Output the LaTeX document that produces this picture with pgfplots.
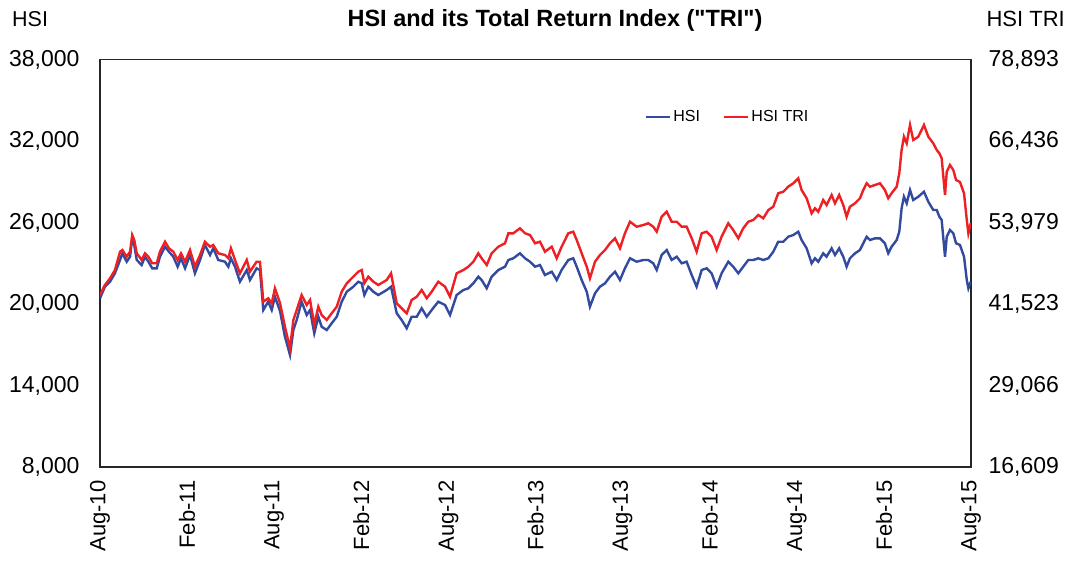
\documentclass[border=0pt]{standalone}
\usepackage{pgfplots}
\pgfplotsset{compat=1.18}
\usepackage{pgfplotstable}
\usepackage{fontspec}
\setmainfont{Liberation Sans}[Ligatures=TeXOff]
\definecolor{hsiblue}{RGB}{50,75,160}
\definecolor{trired}{RGB}{237,32,36}

\pgfplotstableread{
m hsi tri
0.00 20419 42897
0.34 21273 44426
0.69 21641 45450
1.03 22260 46718
1.38 23239 49516
1.54 23732 49775
1.84 23114 48751
2.07 23482 49516
2.22 24836 52068
2.36 24343 51304
2.53 23239 49271
2.87 22871 48247
3.10 23482 49271
3.33 23114 48751
3.60 22628 47743
3.91 22628 47743
4.13 23482 49516
4.48 24218 51044
4.75 23850 50035
5.05 23482 49516
5.35 22746 48247
5.58 23364 49271
5.86 22628 47987
6.20 23607 49775
6.54 22260 47223
6.89 23239 49011
7.23 24343 51044
7.58 23607 50280
7.80 24100 50540
8.15 23239 49271
8.61 23114 49011
8.84 22746 48507
9.02 23364 50035
9.30 22746 48247
9.64 21641 46214
10.11 22503 48247
10.33 21766 46459
10.79 22628 47987
11.02 22503 47987
11.25 19558 41873
11.59 20169 42393
11.83 19558 41629
12.05 20537 43921
12.40 19484 41674
12.74 17592 38052
13.09 16245 34750
13.32 18085 39076
13.55 18822 40604
13.89 20169 42897
14.24 19190 41369
14.47 19558 42133
14.76 17842 38312
15.04 19065 41109
15.27 18328 39840
15.62 18085 39076
15.96 18579 40100
16.31 19065 41109
16.65 20169 43402
17.00 20905 44685
17.45 21273 45694
17.79 21641 46459
18.03 21523 46718
18.21 20662 44685
18.48 21273 45694
18.83 20905 44930
19.17 20662 44426
19.75 21030 45190
20.05 21273 46214
20.44 19315 41629
20.78 18822 40864
21.13 18210 40100
21.47 19065 42133
21.82 19065 42637
22.16 19683 43661
22.51 19065 42393
22.85 19558 43402
23.30 20169 44930
23.77 19926 44166
24.11 19190 42637
24.57 20662 46214
25.03 21030 46718
25.37 21155 47223
25.72 21523 47987
26.06 22009 49271
26.29 21766 48507
26.64 21155 47483
26.98 22009 49271
27.44 22503 50280
27.90 22746 50800
28.13 23239 52328
28.47 23364 52328
28.93 23732 53092
29.28 23364 52328
29.62 23114 52068
29.97 22746 50800
30.31 22871 51044
30.65 22134 49516
31.12 22377 50280
31.46 21766 48507
31.80 22503 50280
32.26 23239 52328
32.60 23364 52573
32.84 22746 51304
33.18 21766 49271
33.53 20905 47223
33.75 19801 45450
34.10 20787 47987
34.44 21273 49011
34.79 21523 49775
35.13 22009 50800
35.48 22377 51564
35.82 21766 50035
36.16 22628 52328
36.51 23364 54101
36.97 23114 53337
37.43 23239 53597
37.77 23239 53857
38.11 22996 53337
38.35 22503 52573
38.69 23607 54865
39.04 23975 55630
39.38 23239 54101
39.73 23482 54101
40.07 22996 53337
40.41 23114 53337
40.76 22134 51564
41.10 21273 49516
41.45 22503 52328
41.79 22628 52573
42.13 22260 51808
42.48 21273 49775
42.82 22260 51808
43.28 23114 53857
43.62 22746 52832
43.97 22260 51564
44.31 22746 53092
44.66 23239 54101
45.00 23239 54361
45.35 23364 55125
45.69 23239 54621
46.04 23364 55889
46.38 23850 56394
46.72 24586 58442
47.07 24586 58687
47.41 24954 59451
47.76 25079 59971
48.10 25322 60735
48.33 24711 58946
48.68 24100 57678
49.02 22996 55385
49.25 23364 56149
49.48 23114 55630
49.82 23732 57418
50.05 23482 56654
50.40 24100 58182
50.63 23607 56914
50.92 24100 58182
51.20 23482 56654
51.43 22746 54865
51.66 23364 56394
52.01 23732 56914
52.35 23975 57678
52.58 24468 58946
52.81 24954 59971
53.04 24711 59451
53.39 24836 59711
53.73 24836 59971
54.07 24468 58946
54.30 23732 57678
54.53 24218 58442
54.88 24711 59451
55.06 25322 61499
55.22 27045 65060
55.38 27899 67093
55.57 27413 66085
55.80 28392 68882
56.02 27656 66589
56.37 27899 67093
56.76 28267 68882
57.06 27531 67093
57.40 26920 66085
57.64 26920 65060
57.82 26427 64556
57.98 26184 63792
58.21 23482 58182
58.33 24954 61744
58.55 25447 62768
58.78 25204 62003
58.97 24468 60475
59.24 24343 60170
59.52 23482 58442
59.71 21766 54361
59.82 21155 52328
59.98 21641 53857
}\data

\begin{document}
\begin{tikzpicture}
\pgfplotsset{
  base/.style={
    scale only axis, width=871pt, height=407.5pt,
    at={(0pt,0pt)}, anchor=south west,
    xmin=0, xmax=60,
    major tick length=0pt, minor tick length=0pt,
    scaled ticks=false,
    tick label style={font=\fontsize{23}{26}\selectfont},
    /pgf/number format/1000 sep={,},
    /pgf/number format/assume math mode=true,
  }
}
\begin{axis}[base,
  ymin=8000, ymax=38000,
  ytick={8000,14000,20000,26000,32000,38000},
  xtick={0,6,12,18,24,30,36,42,48,54,60},
  xticklabels={Aug-10,Feb-11,Aug-11,Feb-12,Aug-12,Feb-13,Aug-13,Feb-14,Aug-14,Feb-15,Aug-15},
  xticklabel style={rotate=90, anchor=east, xshift=-10pt, font=\fontsize{22}{26}\selectfont},
  yticklabel style={xshift=-17pt},
  axis line style={line width=1.4pt, black!85},
]
\addplot[hsiblue, line width=2.4pt] table[x=m, y=hsi]{\data};
\end{axis}
\begin{axis}[base,
  ymin=16609, ymax=78893,
  xtick=\empty,
  ytick={16609,29066,41523,53979,66436,78893},
  yticklabels={{16,609},{29,066},{41,523},{53,979},{66,436},{78,893}},
  yticklabel pos=right,
  yticklabel style={xshift=14pt},
  axis line style={draw=none},
  legend style={at={(axis description cs:0.6257,0.859)}, anchor=west,
    draw=none, fill=none, inner sep=0pt,
    font=\fontsize{16}{18}\selectfont,
    /tikz/every even column/.append style={column sep=21pt}},
  legend columns=2,
  legend image code/.code={\draw[#1] (0pt,0pt) -- (24pt,0pt);},
]
\addlegendimage{hsiblue, line width=2.2pt}
\addlegendentry{HSI}
\addplot[trired, line width=2.4pt] table[x=m, y=tri]{\data};
\addlegendentry{HSI TRI}
\end{axis}
\node[font=\fontsize{23.5}{26}\selectfont\bfseries] at (455pt,447pt) {HSI and its Total Return Index ("TRI")};
\node[font=\fontsize{21.5}{26}\selectfont, anchor=west, inner sep=0pt] at (-88pt,448pt) {HSI};
\node[font=\fontsize{22}{26}\selectfont, anchor=east, inner sep=0pt] at (965pt,448pt) {HSI TRI};
\pgfresetboundingbox
\path[use as bounding box] (-100pt,-93pt) rectangle (977pt,467pt);
\end{tikzpicture}
\end{document}
